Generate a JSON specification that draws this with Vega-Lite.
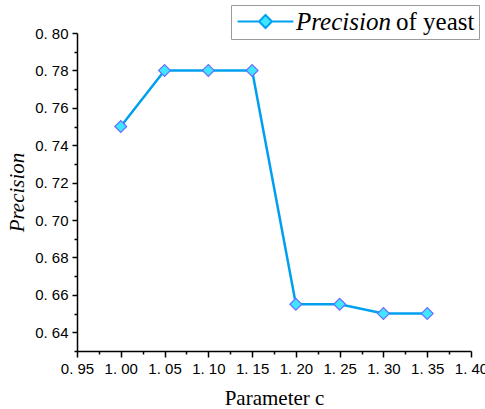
{
  "$schema": "https://vega.github.io/schema/vega-lite/v6.json",
  "autosize": {"type": "none"},
  "width": 394,
  "height": 318,
  "padding": {"left": 77, "top": 33, "right": 14, "bottom": 58},
  "background": "white",
  "config": {
    "view": {"stroke": null},
    "axis": {
      "domainColor": "black",
      "domainWidth": 1.5,
      "tickColor": "black",
      "tickWidth": 1.5,
      "grid": false,
      "labelColor": "black",
      "labelFont": "Liberation Sans",
      "labelFontSize": 15,
      "labelOverlap": false,
      "labelFlush": false,
      "titleColor": "black",
      "titleFont": "Liberation Serif",
      "titleFontWeight": "normal",
      "titleFontSize": 21
    }
  },
  "data": {
    "values": [
      {"c": 1.00, "precision": 0.75},
      {"c": 1.05, "precision": 0.78},
      {"c": 1.10, "precision": 0.78},
      {"c": 1.15, "precision": 0.78},
      {"c": 1.20, "precision": 0.655},
      {"c": 1.25, "precision": 0.655},
      {"c": 1.30, "precision": 0.65},
      {"c": 1.35, "precision": 0.65}
    ]
  },
  "encoding": {
    "x": {
      "field": "c",
      "type": "quantitative",
      "scale": {"domain": [0.95, 1.40], "nice": false, "zero": false},
      "axis": {
        "title": "Parameter c",
        "values": [0.95, 0.975, 1.0, 1.025, 1.05, 1.075, 1.1, 1.125, 1.15, 1.175, 1.2, 1.225, 1.25, 1.275, 1.3, 1.325, 1.35, 1.375, 1.4],
        "labelExpr": "round(datum.value * 1000) % 50 == 0 ? replace(format(datum.value, '.2f'), '.', '. ') : ''",
        "tickSize": {"condition": {"test": "round(datum.value * 1000) % 50 == 0", "value": 6}, "value": 3},
        "labelPadding": 4,
        "titlePadding": 11
      }
    },
    "y": {
      "field": "precision",
      "type": "quantitative",
      "scale": {"domain": [0.63, 0.80], "nice": false, "zero": false},
      "axis": {
        "title": "Precision",
        "titleFontStyle": "italic",
        "values": [0.63, 0.64, 0.65, 0.66, 0.67, 0.68, 0.69, 0.70, 0.71, 0.72, 0.73, 0.74, 0.75, 0.76, 0.77, 0.78, 0.79, 0.80],
        "labelExpr": "round(datum.value * 100) % 2 == 0 ? replace(format(datum.value, '.2f'), '.', '. ') : ''",
        "tickSize": {"condition": {"test": "round(datum.value * 100) % 2 == 0", "value": 5}, "value": 3},
        "labelPadding": 4,
        "titlePadding": 7
      }
    }
  },
  "layer": [
    {
      "mark": {"type": "line", "strokeWidth": 2.5},
      "encoding": {
        "color": {
          "datum": "Precision",
          "scale": {"range": ["#00A0F0"]},
          "legend": {
            "orient": "none",
            "legendX": 154,
            "legendY": -28,
            "title": "of yeast",
            "titleOrient": "right",
            "titleFont": "Liberation Serif",
            "titleFontWeight": "normal",
            "titleFontSize": 25,
            "titleColor": "black",
            "titlePadding": 5,
            "labelFont": "Liberation Serif",
            "labelFontStyle": "italic",
            "labelFontSize": 25,
            "labelColor": "black",
            "labelOffset": 18,
            "symbolOffset": 18,
            "symbolType": "M-4.3,0H-1M1,0H4.3M0,-1L1,0L0,1L-1,0Z",
            "symbolSize": 169,
            "symbolStrokeWidth": 2,
            "strokeColor": "#9a9a9a",
            "padding": 4,
            "encode": {
              "symbols": {
                "update": {
                  "fill": {"value": "#3FE6FF"},
                  "stroke": {"value": "#1E96F5"}
                }
              }
            }
          }
        }
      }
    },
    {
      "mark": {
        "type": "point",
        "shape": "diamond",
        "filled": true,
        "size": 140,
        "fill": "#3FE6FF",
        "stroke": "#6B6BFF",
        "strokeWidth": 1.2,
        "opacity": 1
      }
    }
  ]
}
